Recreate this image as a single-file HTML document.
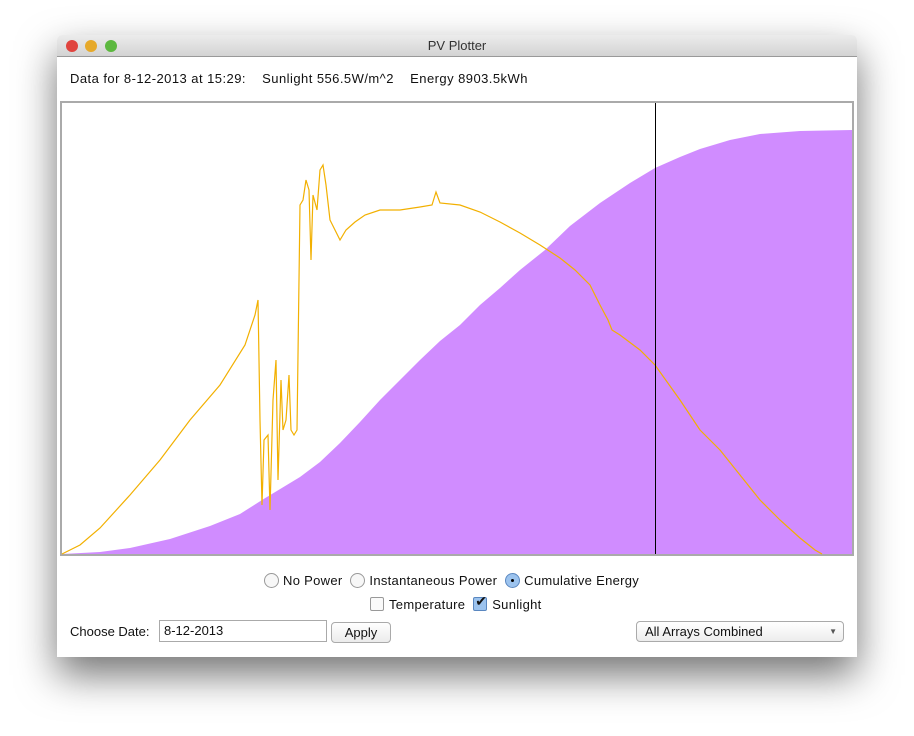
<!DOCTYPE html>
<html><head><meta charset="utf-8"><style>
body{margin:0;width:914px;height:736px;background:#fff;font-family:"Liberation Sans",sans-serif;position:relative;overflow:hidden}
.win{position:absolute;left:57px;top:35px;width:800px;height:622px;background:#fff;box-shadow:0 18px 40px rgba(0,0,0,.55);border-radius:5px 5px 0 0}
.tb{height:21px;border-bottom:1px solid #999;background:linear-gradient(#ececec,#d3d3d3);border-radius:5px 5px 0 0;text-align:center;font-size:13px;line-height:22px;color:#333;position:relative}
.dot{position:absolute;top:5px;width:12px;height:12px;border-radius:50%}
.t{position:absolute;font-size:13px;color:#111;white-space:nowrap}
.rad{display:inline-block;width:13px;height:13px;border:1px solid #999;border-radius:50%;vertical-align:-3px;background:#f7f7f7;margin-right:4px;position:relative}
.chk{display:inline-block;width:12px;height:12px;border:1px solid #999;border-radius:2px;vertical-align:-2px;background:#fafafa;margin-right:5px;position:relative}
</style></head><body>
<div class="win">
<div class="tb">
<span class="dot" style="left:9px;background:#e0443e"></span>
<span class="dot" style="left:28px;background:#e6a92a"></span>
<span class="dot" style="left:48px;background:#5cb83f"></span>
PV Plotter</div>
<div class="t" style="left:13px;top:36px;letter-spacing:0.45px">Data for 8-12-2013 at 15:29: &nbsp;&nbsp;&nbsp;Sunlight 556.5W/m^2 &nbsp;&nbsp;&nbsp;Energy 8903.5kWh</div>
</div>
<svg id="chart" width="914" height="736" style="position:absolute;left:0;top:0">
<rect x="61" y="102" width="792" height="453" fill="#fff" stroke="#aaa" stroke-width="2"/>
</svg>
<div class="t" style="left:264px;top:573px;letter-spacing:0.3px">
<span><span class="rad"></span>No Power</span>
<span><span class="rad" style="margin-left:4px"></span>Instantaneous Power</span>
<span><span class="rad" style="margin-left:4px;background:#9cc3ee;border-color:#5a87c0"><span style="position:absolute;left:5px;top:5px;width:3px;height:3px;border-radius:50%;background:#000"></span></span>Cumulative Energy</span>
</div>
<div class="t" style="left:370px;top:597px;letter-spacing:0.3px">
<span><span class="chk"></span>Temperature</span>
<span><span class="chk" style="margin-left:4px;background:#9cc3ee;border-color:#5a87c0"><span style="position:absolute;left:1px;top:-4px;font-size:14px;line-height:14px">✔</span></span>Sunlight</span>
</div>
<div class="t" style="left:70px;top:624px">Choose Date:</div>
<div class="t" style="left:159px;top:620px;width:162px;height:20px;border:1px solid #aaa;line-height:20px;padding-left:4px">8-12-2013</div>
<div class="t" style="left:331px;top:622px;width:58px;height:19px;border:1px solid #aaa;border-radius:4px;text-align:center;line-height:19px;background:linear-gradient(#fff,#ececec)">Apply</div>
<div class="t" style="left:636px;top:621px;width:198px;height:19px;border:1px solid #aaa;border-radius:4px;line-height:19px;padding-left:8px;background:linear-gradient(#fff,#ededed)">All Arrays Combined<span style="position:absolute;right:6px;font-size:8px;color:#555">▼</span></div>
<script>
const energyMinutes=[336,374,404,444,484,514,536,574,594,614,634,654,674,694,714,734,754,774,794,819,844,874,904,929,954,974,1004,1034,1074,1126];
const energyValues=[0,48,144,360,672,960,1296,1848,2208,2664,3168,3696,4176,4656,5112,5496,5976,6384,6816,7296,7872,8424,8904,9264,9528,9720,9936,10080,10152,10176];
const sunMinutes=[336,354,374,404,434,464,494,519,529,532,534,536,538,542,544,547,550,552,555,557,560,563,565,568,571,574,577,580,583,585,587,591,594,597,600,604,609,614,620,629,639,654,674,694,706,710,714,734,754,774,794,814,834,849,864,874,882,886,894,914,929,954,974,994,1014,1034,1054,1074,1089,1096];
const sunValues=[0,27,78,177,282,402,507,627,717,762,402,147,342,357,132,462,582,222,522,372,402,537,372,357,372,1047,1062,1122,1092,882,1077,1032,1152,1167,1107,1002,972,942,972,996,1017,1032,1032,1041,1047,1086,1053,1047,1026,996,963,927,888,852,807,747,702,672,657,612,567,462,372,312,237,162,102,48,12,0];
const cursorMinute=929;
const xDomain=[336,1126], sunMax=1350, energyMax=10800;
const X=m=>62+(m-xDomain[0])/(xDomain[1]-xDomain[0])*790;
const Ys=v=>554-v/sunMax*450;
const Ye=v=>554-v/energyMax*450;
const svg=document.getElementById('chart');
const NS='http://www.w3.org/2000/svg';
let d='M'+X(energyMinutes[0])+' 554';
energyMinutes.forEach((m,i)=>{d+=' L'+X(m).toFixed(1)+' '+Ye(energyValues[i]).toFixed(1);});
d+=' L'+X(energyMinutes[energyMinutes.length-1])+' 554 Z';
const area=document.createElementNS(NS,'path');
area.setAttribute('d',d);area.setAttribute('fill','#d08cff');


svg.appendChild(area);
const pl=document.createElementNS(NS,'polyline');
pl.setAttribute('points',sunMinutes.map((m,i)=>X(m).toFixed(1)+','+Ys(sunValues[i]).toFixed(1)).join(' '));
pl.setAttribute('fill','none');pl.setAttribute('stroke','#f2b000');pl.setAttribute('stroke-width','1.2');


svg.appendChild(pl);
const cl=document.createElementNS(NS,'line');
const cx=Math.round(X(cursorMinute))+0.5;
cl.setAttribute('x1',cx);cl.setAttribute('x2',cx);cl.setAttribute('y1',103);cl.setAttribute('y2',554);
cl.setAttribute('stroke','#000');cl.setAttribute('stroke-width','1');


svg.appendChild(cl);
</script>
</body></html>
